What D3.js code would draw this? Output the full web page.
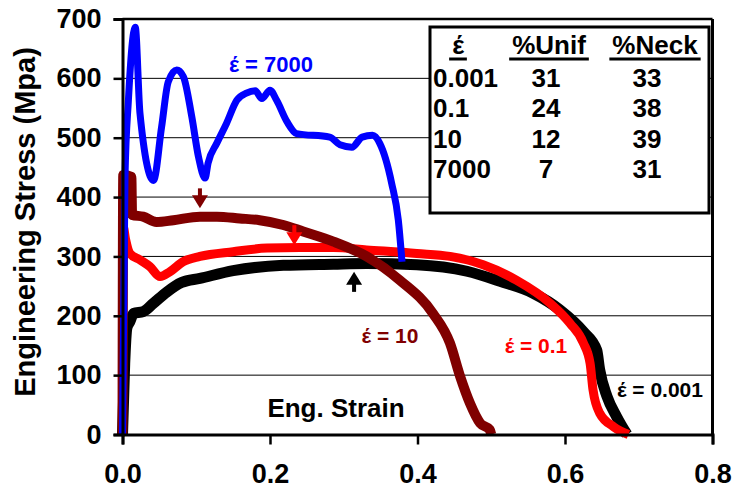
<!DOCTYPE html>
<html>
<head>
<meta charset="utf-8">
<script src="https://cdn.jsdelivr.net/npm/d3@7"></script>
<style>
  body { margin: 0; background: #fff; }
  text { font-family: "Liberation Sans", Arial, sans-serif; font-weight: bold; }
</style>
</head>
<body>
<div id="chart"></div>
<script>
// strain / stress readings for each strain rate
const black001 = [[0,0],[0.003,120],[0.006,180],[0.01,190],[0.015,204],[0.028,207],[0.042,221],[0.06,240],[0.08,256],[0.105,263],[0.15,276],[0.218,285],[0.286,287],[0.331,288],[0.399,286],[0.467,275],[0.512,258],[0.557,238],[0.593,210],[0.625,173],[0.643,142],[0.647,109],[0.657,64],[0.67,30],[0.684,0]];
const red01 = [[0,0],[0.001,350],[0.004,330],[0.01,305],[0.024,294],[0.037,283],[0.051,266],[0.064,274],[0.082,291],[0.105,300],[0.15,308],[0.196,314],[0.241,315],[0.286,315],[0.331,311],[0.399,305],[0.444,300],[0.489,286],[0.534,260],[0.58,221],[0.607,187],[0.625,154],[0.634,120],[0.638,75],[0.647,36],[0.666,13],[0.686,0]];
const darkred10 = [[0,0],[0.001,437],[0.012,434],[0.013,370],[0.028,367],[0.046,358],[0.069,361],[0.105,367],[0.128,367],[0.159,364],[0.186,361],[0.218,353],[0.245,342],[0.286,325],[0.331,300],[0.376,260],[0.421,204],[0.444,154],[0.458,97],[0.471,53],[0.485,19],[0.498,8],[0.5,0]];
const blue7000 = [[0,0],[0.0034,434],[0.008,563],[0.0173,686],[0.0237,541],[0.042,428],[0.053,518],[0.062,594],[0.0735,614],[0.0825,603],[0.094,535],[0.103,468],[0.112,432],[0.116,457],[0.128,491],[0.141,524],[0.155,563],[0.168,575],[0.18,579],[0.189,566],[0.2,580],[0.209,563],[0.223,527],[0.236,507],[0.281,501],[0.295,488],[0.311,484],[0.325,501],[0.339,504],[0.349,490],[0.365,423],[0.374,361],[0.379,291]];

// arrows marking uniform elongation: [strain, stress at tip, direction]
const arrows = [[0.105,381,"down","#800000"],[0.233,319,"down","#FF0000"],[0.314,274,"up","#000000"]];

// table
const tableHead = ["έ","%Unif","%Neck"];
const tableRates = ["0.001","0.1","10","7000"];
const tableUnif = [31,24,12,7];
const tableNeck = [33,38,39,31];

const xTicks = [0,0.2,0.4,0.6,0.8];
const yTicks = [0,100,200,300,400,500,600,700];

const W = 734, H = 491;
const mLeft = 122.5, mRight = 712.5, mTop = 19, mBottom = 434.5;

const svg = d3.select("#chart").append("svg").attr("width", W).attr("height", H);

const x = d3.scaleLinear().domain([0,0.8]).range([mLeft,mRight]);
const y = d3.scaleLinear().domain([0,700]).range([mBottom,mTop]);

// gridlines
svg.append("g").selectAll("line").data(yTicks.filter(d => d > 0 && d < 700)).join("line")
  .attr("x1", mLeft).attr("x2", mRight).attr("y1", d => y(d)).attr("y2", d => y(d))
  .attr("stroke", "#000").attr("stroke-width", 1);

// frame top / right
svg.append("line").attr("x1", mLeft).attr("x2", mRight).attr("y1", mTop).attr("y2", mTop)
  .attr("stroke", "#000").attr("stroke-width", 2.5);
svg.append("line").attr("x1", mRight).attr("x2", mRight).attr("y1", mTop).attr("y2", mBottom)
  .attr("stroke", "#000").attr("stroke-width", 3);

// table box
const box = svg.append("g");
box.append("rect").attr("x", 430).attr("y", 27).attr("width", 279).attr("height", 186)
  .attr("fill", "#fff").attr("stroke", "#000").attr("stroke-width", 3);
const colX = [458, 549, 655];
tableHead.forEach((h, i) => {
  const t = box.append("text").attr("x", colX[i]).attr("y", 54).attr("text-anchor", "middle")
    .attr("font-size", 26).text(h);
  const w = t.node().getComputedTextLength();
  box.append("line").attr("x1", colX[i] - w/2 - 3).attr("x2", colX[i] + w/2 + 3)
    .attr("y1", 59).attr("y2", 59).attr("stroke", "#000").attr("stroke-width", 3);
});
const rowY = [87, 117, 147.5, 178];
tableRates.forEach((r, i) => {
  box.append("text").attr("x", 433).attr("y", rowY[i]).attr("font-size", 26).text(r);
  box.append("text").attr("x", 546).attr("y", rowY[i]).attr("text-anchor", "middle").attr("font-size", 26).text(tableUnif[i]);
  box.append("text").attr("x", 647).attr("y", rowY[i]).attr("text-anchor", "middle").attr("font-size", 26).text(tableNeck[i]);
});

// curves
const line = d3.line().x(d => x(d[0])).y(d => y(d[1])).curve(d3.curveMonotoneX);
const series = [
  [black001, "#000000", 11],
  [red01, "#FF0000", 9],
  [darkred10, "#800000", 10],
  [blue7000, "#0000FF", 7]
];
series.forEach(s => {
  svg.append("path").attr("d", line(s[0])).attr("fill", "none")
    .attr("stroke", s[1]).attr("stroke-width", s[2]).attr("stroke-linejoin", "round");
});

// arrows
arrows.forEach(a => {
  const ax = x(a[0]), ay = y(a[1]);
  const s = a[2] === "down" ? -1 : 1;
  const g = svg.append("g").attr("fill", a[3]);
  g.append("path").attr("d", `M${ax},${ay} L${ax-8},${ay + s*13} L${ax+8},${ay + s*13} Z`);
  g.append("rect").attr("x", ax - 2).attr("width", 4)
    .attr("y", s > 0 ? ay + 12 : ay - 20).attr("height", 8);
});

// axes
const yAxis = d3.axisLeft(y).tickValues(yTicks).tickSize(9).tickPadding(12).tickFormat(d3.format("d"));
const gy = svg.append("g").attr("transform", `translate(${mLeft},0)`).call(yAxis);
gy.select(".domain").attr("stroke-width", 3);
gy.selectAll(".tick line").attr("stroke-width", 2.5);
gy.selectAll("text").attr("font-size", 27).attr("fill", "#000").attr("font-family", null);

const xAxis = d3.axisBottom(x).tickValues(xTicks).tickSize(10).tickFormat(d3.format(".1f"));
const gx = svg.append("g").attr("transform", `translate(0,${mBottom})`).call(xAxis);
gx.select(".domain").attr("stroke-width", 3);
gx.selectAll(".tick line").attr("stroke-width", 2.5);
gx.selectAll("text").attr("font-size", 27).attr("fill", "#000").attr("font-family", null)
  .attr("y", 48).attr("dy", 0);

// titles
svg.append("text").attr("transform", "translate(35,222) rotate(-90)").attr("text-anchor", "middle")
  .attr("font-size", 29).text("Engineering Stress (Mpa)");
svg.append("text").attr("x", 336).attr("y", 417).attr("text-anchor", "middle")
  .attr("font-size", 26).text("Eng. Strain");

// curve labels
const labels = [
  ["έ = 7000", 271, 72, "#0000FF", 22],
  ["έ = 10", 390, 343, "#800000", 21],
  ["έ = 0.1", 536, 353, "#FF0000", 21],
  ["έ = 0.001", 660, 397, "#000000", 21]
];
labels.forEach(l => {
  svg.append("text").attr("x", l[1]).attr("y", l[2]).attr("text-anchor", "middle")
    .attr("font-size", l[4]).attr("fill", l[3]).text(l[0]);
});
</script>
</body>
</html>
